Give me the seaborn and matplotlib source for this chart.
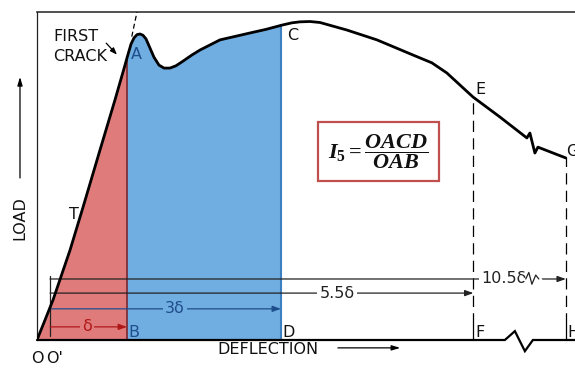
import matplotlib
matplotlib.use("Agg")
import matplotlib.pyplot as plt
import numpy as np
import pandas as pd
import seaborn as sns

# Load-deflection curve (deflection in units of first-crack deflection, measured from O';
# load normalised to the frame height).  The axis is broken between F and H.
deflection = [-0.169, 0.039, 0.260, 0.429, 0.649, 0.844, 0.974, 1.000, 1.052, 1.091,
              1.130, 1.169, 1.208, 1.247, 1.299, 1.351, 1.416, 1.481, 1.558, 1.636,
              1.714, 1.844, 1.948, 2.208, 2.597, 2.805, 3.013, 3.143, 3.247, 3.377,
              3.507, 3.857, 4.247, 4.714, 4.961, 5.156, 5.494, 5.844, 6.195,
              6.234, 6.299, 6.338, 6.701]
load = [0.000, 0.122, 0.274, 0.405, 0.579, 0.732, 0.838, 0.860, 0.902, 0.921,
        0.931, 0.933, 0.929, 0.918, 0.890, 0.862, 0.838, 0.829, 0.829, 0.836,
        0.848, 0.869, 0.884, 0.915, 0.936, 0.947, 0.960, 0.967, 0.970, 0.971,
        0.968, 0.945, 0.915, 0.869, 0.845, 0.814, 0.741, 0.680, 0.616,
        0.631, 0.570, 0.588, 0.555]

# Tangent through the first-crack point
tangent_x = [1.062, 1.130]
tangent_y = [0.925, 1.000]

# Characteristic deflections: B = δ, D = 3δ, F = 5.5δ, H = 10.5δ (drawn past the break)
x_B, x_D, x_F, x_H = 1.0, 3.0, 5.5, 6.701
dim_labels = ["δ", "3δ", "5.5δ", "10.5δ"]
dim_ends = [x_B, x_D, x_F, x_H]

# Bottom axis with a break symbol between F and H
axis_x = [-0.169, 5.909, 6.039, 6.169, 6.273, 6.82]
axis_y = [0.0, 0.0, 0.027, -0.034, 0.0, 0.0]

curve = pd.DataFrame({"deflection": deflection, "load": load})

RED = "#E07B7B"
BLUE = "#70ADE0"
DARK_BLUE = "#1F4E8C"
DARK_RED = "#B01818"

sns.set_style("white")
plt.rcParams["font.family"] = ["DejaVu Sans"]
plt.rcParams["mathtext.fontset"] = "custom"
plt.rcParams["mathtext.it"] = "Liberation Serif:italic:bold"
plt.rcParams["mathtext.rm"] = "Liberation Serif:bold"
plt.rcParams["mathtext.bf"] = "Liberation Serif:bold"

W, H = 575, 369
fig = plt.figure(figsize=(W / 100, H / 100), dpi=100)
ax = fig.add_axes([37 / W, (H - 340) / H, 1 - 37 / W, (340 - 12) / H])
ax.set_xlim(-0.169, 6.82)
ax.set_ylim(0, 1)
ax.set_xticks([])
ax.set_yticks([])
for side in ["right", "bottom"]:
    ax.spines[side].set_visible(False)
ax.spines["top"].set_linewidth(1.1)
ax.spines["left"].set_linewidth(0.9)
for side in ["top", "left"]:
    ax.spines[side].set_color("#222222")

xs = np.array(deflection)
ys = np.array(load)

# Areas under the curve: OAB (red) and OACD (blue part beyond B)
mask_red = xs <= x_B
ax.fill_between(xs[mask_red], 0, ys[mask_red], color=RED, lw=0, zorder=1)
mask_blue = (xs >= x_B) & (xs <= x_D + 1e-9)
bx = np.concatenate([xs[mask_blue], [x_D]])
by = np.concatenate([ys[mask_blue], [np.interp(x_D, xs, ys)]])
ax.fill_between(bx, 0, by, color=BLUE, lw=0, zorder=1)

yA = np.interp(x_B, xs, ys)
yC = np.interp(x_D, xs, ys)
yE = np.interp(x_F, xs, ys)
yG = ys[-1]
ax.plot([x_B, x_B], [0, yA], color="#7a2e3a", lw=1.3, zorder=2)
ax.plot([x_D, x_D], [0, yC], color="#3d7fc0", lw=1.5, zorder=2)

# Load-deflection curve
sns.lineplot(data=curve, x="deflection", y="load", sort=False, color="black",
             lw=2.0, ax=ax, zorder=5)
ax.lines[-1].set_solid_joinstyle("round")
ax.set_xlabel("")
ax.set_ylabel("")
ax.plot(tangent_x, tangent_y, color="black", lw=0.9, ls=(0, (4, 2.5)), zorder=4)

# Bottom axis with break
ax.plot(axis_x, axis_y, color="black", lw=1.6, clip_on=False, zorder=6, solid_joinstyle="miter")

# Dashed ordinates at F and H
ax.plot([x_F, x_F], [0.05, yE], color="black", lw=0.9, ls=(0, (9, 5)), zorder=3)
ax.plot([x_H, x_H], [0.05, yG], color="black", lw=0.9, ls=(0, (9, 5)), zorder=3, clip_on=False)
ax.plot([x_F, x_F], [0, 0.05], color="black", lw=0.9, zorder=3)
ax.plot([x_H, x_H], [0, 0.05], color="black", lw=0.9, zorder=3, clip_on=False)

# Dimension lines from O'
dim_y = [0.040, 0.095, 0.143, 0.186]
dim_colors = [DARK_RED, DARK_BLUE, "#222222", "#222222"]
dim_text_x = [0.481, 1.623, 3.727, 5.896]
dim_text_bg = [RED, BLUE, "white", "white"]
ax.plot([0, 0], [0.012, 0.195], color="#222222", lw=0.9, zorder=4)
for lab, xe, yy, c, tx, bg in zip(dim_labels, dim_ends, dim_y, dim_colors, dim_text_x, dim_text_bg):
    ax.annotate("", xy=(xe, yy), xytext=(0, yy),
                arrowprops=dict(arrowstyle="-|>,head_length=0.5,head_width=0.18",
                                color=c, lw=0.9, shrinkA=0, shrinkB=0),
                zorder=4, annotation_clip=False)
    ax.text(tx, yy, lab, color=c, fontsize=11.5, ha="center", va="center", zorder=5,
            bbox=dict(boxstyle="square,pad=0.15", fc=bg, ec="none"))
# break mark on the 10.5δ dimension line
zz_x = [6.18, 6.22, 6.26, 6.31, 6.35]
zz_y = [0.186, 0.206, 0.170, 0.198, 0.186]
ax.plot([6.16, 6.37], [0.186, 0.186], color="white", lw=2.5, zorder=5)
ax.plot(zz_x, zz_y, color="#222222", lw=0.9, zorder=6)

# Point labels
lbl = dict(fontsize=11.5, zorder=7)
ax.text(0.039, 0.895, "FIRST\nCRACK", ha="left", va="center", linespacing=1.35, color="#111111", **lbl)
ax.annotate("", xy=(0.87, 0.870), xytext=(0.73, 0.905),
            arrowprops=dict(arrowstyle="-|>,head_length=0.4,head_width=0.15", color="black",
                            lw=0.9, shrinkA=0, shrinkB=0), zorder=7)
ax.text(1.117, 0.869, "A", ha="center", va="center", color=DARK_BLUE, **lbl)
ax.text(3.156, 0.927, "C", ha="center", va="center", color="#111111", **lbl)
ax.text(5.597, 0.765, "E", ha="center", va="center", color="#111111", **lbl)
ax.text(6.70, 0.576, "G", ha="left", va="center", color="#111111", clip_on=False, **lbl)
ax.text(1.013, 0.022, "B", ha="left", va="center", color=DARK_BLUE, **lbl)
ax.text(3.02, 0.022, "D", ha="left", va="center", color="#111111", **lbl)
ax.text(5.53, 0.022, "F", ha="left", va="center", color="#111111", **lbl)
ax.text(6.72, 0.022, "H", ha="left", va="center", color="#111111", **lbl)
ax.text(0.312, 0.384, "T", ha="center", va="center", color="#111111", **lbl)

# Axis captions
ax.text(-0.169, -0.055, "O", ha="center", va="center", color="#111111", clip_on=False, **lbl)
ax.text(0.055, -0.055, "O'", ha="center", va="center", color="#111111", clip_on=False, **lbl)
ax.text(2.83, -0.030, "DEFLECTION", ha="center", va="center", color="#111111", clip_on=False, **lbl)
ax.annotate("", xy=(4.55, -0.024), xytext=(3.74, -0.024),
            arrowprops=dict(arrowstyle="-|>,head_length=0.5,head_width=0.15", color="black",
                            lw=0.9, shrinkA=0, shrinkB=0), annotation_clip=False)
ax.text(-0.39, 0.372, "LOAD", ha="center", va="center", rotation=90, color="#111111",
        clip_on=False, **lbl)
ax.annotate("", xy=(-0.39, 0.802), xytext=(-0.39, 0.494),
            arrowprops=dict(arrowstyle="-|>,head_length=0.5,head_width=0.15", color="black",
                            lw=0.9, shrinkA=0, shrinkB=0), annotation_clip=False)

# Toughness index formula
ax.text(4.27, 0.575, r"$I_5=\dfrac{OACD}{OAB}$", ha="center", va="center", fontsize=16,
        color="#111111", zorder=8,
        bbox=dict(boxstyle="square,pad=0.45", fc="white", ec="#C0504D", lw=1.6))

fig.savefig("out.png", dpi=100)
